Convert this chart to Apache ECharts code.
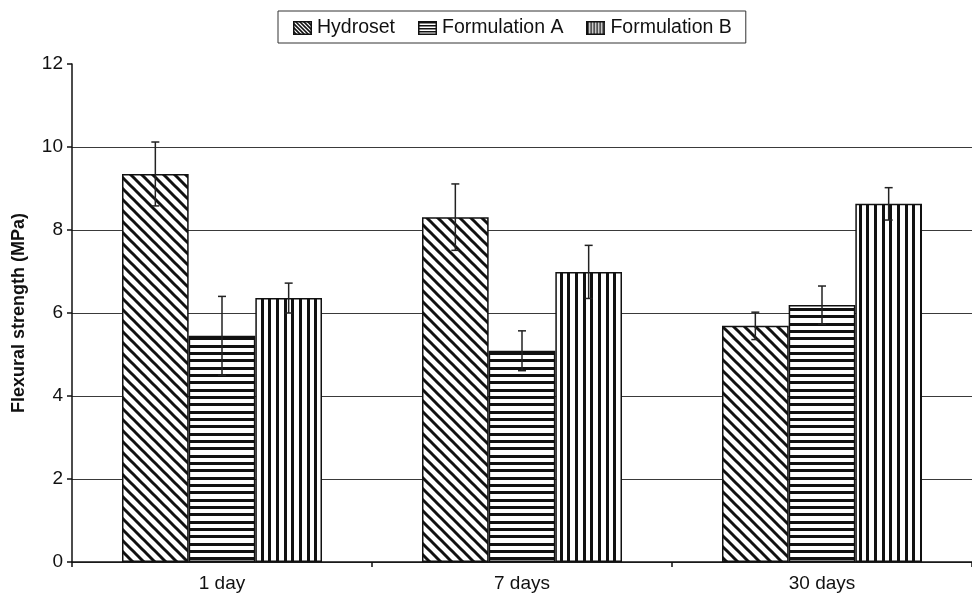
<!DOCTYPE html>
<html>
<head>
<meta charset="utf-8">
<script src="https://cdn.jsdelivr.net/npm/echarts@6/dist/echarts.min.js"></script>
<style>
  html, body { margin: 0; padding: 0; background: #fff; }
  #chart { width: 972px; height: 594px; }
</style>
</head>
<body>
<div id="chart"></div>
<script>
// Flexural strength of the three materials after 1, 7 and 30 days
const categories = ['1 day', '7 days', '30 days'];
const seriesNames = ['Hydroset', 'Formulation A', 'Formulation B'];
const hydroset = [9.35, 8.31, 5.69];
const hydrosetErr = [0.77, 0.80, 0.33];
const formulationA = [5.45, 5.09, 6.19];
const formulationAErr = [0.95, 0.48, 0.46];
const formulationB = [6.36, 6.99, 8.63];
const formulationBErr = [0.36, 0.64, 0.39];
const yTicks = [0, 2, 4, 6, 8, 10, 12];

const FONT = '"Liberation Sans", Arial, Helvetica, sans-serif';
const INK = '#111';

// Hatch fills drawn onto small repeating tiles
function diagonalTile() {
  const s = 11;
  const c = document.createElement('canvas');
  c.width = s; c.height = s;
  const g = c.getContext('2d');
  g.fillStyle = '#fff'; g.fillRect(0, 0, s, s);
  g.strokeStyle = INK; g.lineWidth = 3;
  for (let k = -1; k <= 1; k++) {
    g.beginPath();
    g.moveTo(-2, -2 + k * s);
    g.lineTo(s + 2, s + 2 + k * s);
    g.stroke();
  }
  return c;
}
function horizontalTile() {
  const c = document.createElement('canvas');
  c.width = 4; c.height = 22;
  const g = c.getContext('2d');
  g.fillStyle = '#fff'; g.fillRect(0, 0, 4, 22);
  g.fillStyle = INK;
  [0, 7, 15].forEach(y => g.fillRect(0, y, 4, 3));
  return c;
}
function verticalTile() {
  const c = document.createElement('canvas');
  c.width = 23; c.height = 4;
  const g = c.getContext('2d');
  g.fillStyle = '#fff'; g.fillRect(0, 0, 23, 4);
  g.fillStyle = INK;
  [0, 8, 15].forEach(x => g.fillRect(x, 0, 3, 4));
  return c;
}
const fills = [
  { image: diagonalTile(), repeat: 'repeat' },
  { image: horizontalTile(), repeat: 'repeat' },
  { image: verticalTile(), repeat: 'repeat' }
];

// Small legend swatches with a finer version of each hatch
function swatch(kind) {
  const w = 19, h = 14;
  const c = document.createElement('canvas');
  c.width = w; c.height = h;
  const g = c.getContext('2d');
  g.fillStyle = '#fff'; g.fillRect(0, 0, w, h);
  g.fillStyle = INK; g.strokeStyle = INK;
  if (kind === 0) {
    g.save();
    g.beginPath(); g.rect(0, 0, w, h); g.clip();
    g.lineWidth = 1.6;
    for (let k = -h; k < w + h; k += 4) {
      g.beginPath(); g.moveTo(k, 0); g.lineTo(k + h, h); g.stroke();
    }
    g.restore();
  } else if (kind === 1) {
    for (let y = 1; y < h; y += 3) g.fillRect(0, y, w, 1.5);
  } else {
    for (let x = 1; x < w; x += 3) g.fillRect(x, 0, 1.5, h);
  }
  g.lineWidth = 1.5;
  g.strokeRect(0.75, 0.75, w - 1.5, h - 1.5);
  return 'image://' + c.toDataURL();
}

const values = [hydroset, formulationA, formulationB];
const errors = [hydrosetErr, formulationAErr, formulationBErr];

const barSeries = seriesNames.map((name, i) => ({
  name: name,
  type: 'bar',
  data: values[i],
  barGap: '0%',
  barCategoryGap: '33.33%',
  itemStyle: { color: fills[i], borderColor: INK, borderWidth: 1.5 },
  emphasis: { disabled: true },
  z: 2
}));

// Error bars: one custom series per material, shifted onto its bar
const errorSeries = seriesNames.map((name, i) => ({
  type: 'custom',
  name: name + ' error',
  data: values[i].map((v, c) => [c, v, errors[i][c]]),
  z: 10,
  silent: true,
  renderItem: function (params, api) {
    const c = api.value(0), v = api.value(1), e = api.value(2);
    const band = api.size([1, 0])[0];
    const barW = band * (2 / 3) / 3;
    const center = api.coord([c, v]);
    const x = center[0] + (i - 1) * barW;
    const top = api.coord([c, v + e])[1];
    const bot = api.coord([c, v - e])[1];
    const cap = 4;
    const style = { stroke: '#222', lineWidth: 1.5, fill: null };
    return {
      type: 'group',
      children: [
        { type: 'line', shape: { x1: x, y1: top, x2: x, y2: bot }, style: style },
        { type: 'line', shape: { x1: x - cap, y1: top, x2: x + cap, y2: top }, style: style },
        { type: 'line', shape: { x1: x - cap, y1: bot, x2: x + cap, y2: bot }, style: style }
      ]
    };
  }
}));

const gridColors = yTicks.map(t => (t === yTicks[yTicks.length - 1] ? 'rgba(0,0,0,0)' : '#3a3a3a'));

const chart = echarts.init(document.getElementById('chart'), null, { renderer: 'canvas' });
chart.setOption({
  animation: false,
  backgroundColor: '#fff',
  textStyle: { fontFamily: FONT, color: INK },
  legend: {
    data: seriesNames.map((n, i) => ({ name: n, icon: swatch(i) })),
    left: 278,
    top: 11,
    itemWidth: 19,
    itemHeight: 14,
    itemGap: 23,
    padding: [7, 14, 5, 15],
    borderColor: '#333',
    borderWidth: 1,
    textStyle: { fontFamily: FONT, fontSize: 19.5, color: INK }
  },
  grid: { left: 72, right: 0, top: 64, bottom: 32, containLabel: false },
  xAxis: {
    type: 'category',
    data: categories,
    axisLine: { lineStyle: { color: INK, width: 1.5 } },
    axisTick: { show: true, alignWithLabel: false, length: 5, lineStyle: { color: INK, width: 1.5 } },
    axisLabel: { fontFamily: FONT, fontSize: 19, color: INK, margin: 12 }
  },
  yAxis: {
    type: 'value',
    min: yTicks[0],
    max: yTicks[yTicks.length - 1],
    interval: 2,
    name: 'Flexural strength (MPa)',
    nameLocation: 'middle',
    nameGap: 44,
    nameTextStyle: { fontFamily: FONT, fontSize: 18, fontWeight: 'bold', color: INK },
    axisLine: { show: true, lineStyle: { color: INK, width: 1.5 } },
    axisTick: { show: true, length: 5, lineStyle: { color: INK, width: 1.5 } },
    axisLabel: { fontFamily: FONT, fontSize: 19, color: INK, margin: 9 },
    splitLine: { show: true, lineStyle: { color: gridColors, width: 1 } }
  },
  series: barSeries.concat(errorSeries)
});
</script>
</body>
</html>
